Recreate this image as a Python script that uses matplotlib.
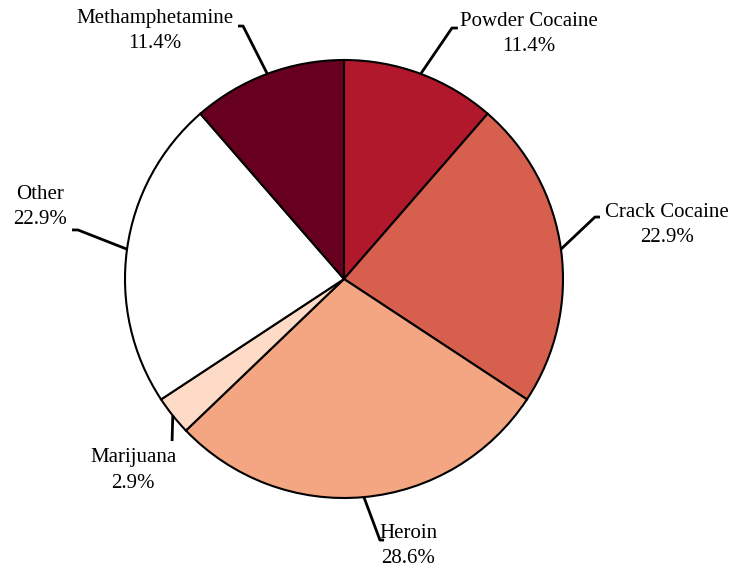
import matplotlib.pyplot as plt
import numpy as np

plt.rcParams['font.family'] = ['Liberation Serif', 'DejaVu Serif']

drugs = ["Powder Cocaine", "Crack Cocaine", "Heroin", "Marijuana", "Other", "Methamphetamine"]
shares = [11.4, 22.9, 28.6, 2.9, 22.9, 11.4]
colors = ["#B2182B", "#D6604D", "#F4A582", "#FDDBC7", "#FFFFFF", "#67001F"]

# label layout (data coords, pie radius = 1): elbow, end of leader, text centre
elbows = [(0.493, 1.146), (1.146, 0.283), (0.164, -1.192), (-0.785, -0.74), (-1.215, 0.224), (-0.461, 1.155)]
ends = [(0.52, 1.146), (1.169, 0.283), (0.183, -1.192), (-0.785, -0.74), (-1.242, 0.224), (-0.484, 1.155)]
text_pos = [(0.845, 1.118), (1.475, 0.248), (0.292, -1.218), (-0.963, -0.875), (-1.388, 0.330), (-0.863, 1.134)]

fig = plt.figure(figsize=(7.36, 5.71), dpi=100)
ax = fig.add_axes([0, 0, 1, 1])

wedges, _ = ax.pie(shares, colors=colors, startangle=90, counterclock=False,
                   radius=1, wedgeprops=dict(edgecolor="black", linewidth=1.5))

for w, name, val, el, en, tp in zip(wedges, drugs, shares, elbows, ends, text_pos):
    mid = np.deg2rad((w.theta1 + w.theta2) / 2)
    x0, y0 = np.cos(mid), np.sin(mid)
    ax.plot([x0, el[0], en[0]], [y0, el[1], en[1]], color="black", lw=2,
            solid_capstyle="butt", zorder=3)
    ax.text(tp[0], tp[1], f"{name}\n{val:.1f}%", ha="center", va="center",
            fontsize=15, linespacing=1.45)

ax.set_xlim(-344 / 219, (736 - 344) / 219)
ax.set_ylim(-(571 - 279) / 219, 279 / 219)
ax.set_aspect("auto")
ax.axis("off")

plt.savefig("out.png", dpi=100)
